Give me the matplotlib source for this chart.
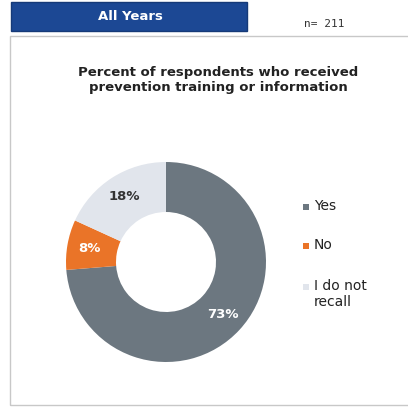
import numpy as np
import matplotlib.pyplot as plt
from matplotlib.patches import Rectangle

categories = ['Yes', 'No', 'I do not\nrecall']
values = [73, 8, 18]
colors = ['#6c7780', '#ea7428', '#e1e5ec']
label_colors = ['white', 'white', '#333333']
n_resp = 211

W, H = 408, 409
fig = plt.figure(figsize=(W / 100, H / 100), dpi=100)
fig.patch.set_facecolor('white')


def px(x, y):
    # pixel position measured from the top-left corner
    return x / W, 1 - y / H


# header bar
x0, y0 = px(11, 31)
fig.patches.append(Rectangle((x0, y0), 236 / W, 29 / H, transform=fig.transFigure,
                             facecolor='#1c4894', edgecolor='#163a78', lw=1))
fig.text(*px(130, 17), 'All Years', color='white', fontsize=9.5, fontweight='bold',
         ha='center', va='center', family='DejaVu Sans')
fig.text(*px(324, 24), f'n= {n_resp}', color='#333333', fontsize=8,
         ha='center', va='center', family='DejaVu Sans Mono')

# panel frame
fx, fy = px(10, 405)
fig.patches.append(Rectangle((fx, fy), 400 / W, 369 / H, transform=fig.transFigure,
                             facecolor='none', edgecolor='#c8c8c8', lw=1))

fig.text(*px(218, 80), 'Percent of respondents who received\nprevention training or information',
         ha='center', va='center', fontsize=9.5, fontweight='bold', color='#222222',
         linespacing=1.15)

# donut
ax = fig.add_axes([66 / W, 1 - 362 / H, 200 / W, 200 / H])
wedges, _ = ax.pie(values, colors=colors, startangle=90, counterclock=False,
                   radius=1, wedgeprops=dict(width=0.5, edgecolor='none'))
ax.set_xlim(-1, 1)
ax.set_ylim(-1, 1)
ax.set_aspect('equal')
ax.axis('off')

for w, v, c in zip(wedges, values, label_colors):
    theta = np.radians((w.theta1 + w.theta2) / 2)
    r = 0.78
    ax.text(r * np.cos(theta), r * np.sin(theta), f'{v}%',
            ha='center', va='center', color=c, fontsize=9.5, fontweight='bold')

# legend
legend_y = [207, 246, 287]
for lab, col, ly in zip(categories, colors, legend_y):
    sx, sy = px(303, ly + 3)
    fig.patches.append(Rectangle((sx, sy), 6 / W, 6 / H, transform=fig.transFigure,
                                 facecolor=col, edgecolor='none'))
    fig.text(*px(314, ly - 8), lab, ha='left', va='top',
             fontsize=10, color='#222222', linespacing=1.15)

fig.savefig('out.png', dpi=100)
